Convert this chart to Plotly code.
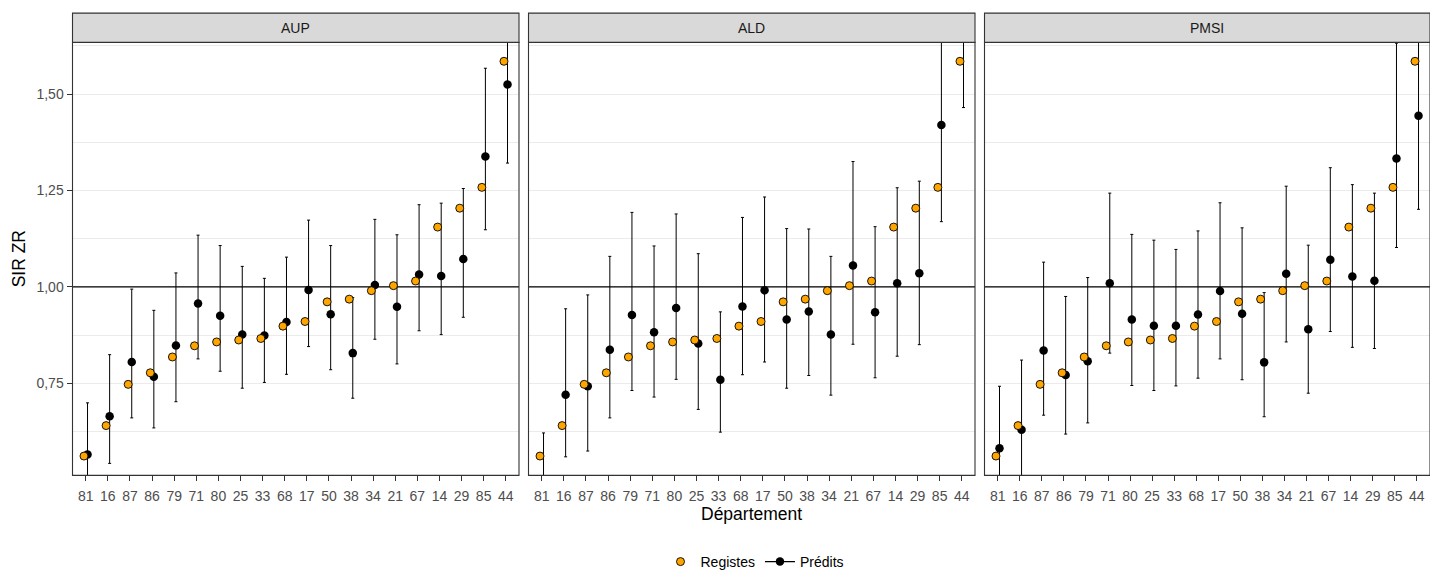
import plotly.graph_objects as go

# ---------------- data ----------------
categories = ["81", "16", "87", "86", "79", "71", "80", "25", "33", "68",
              "17", "50", "38", "34", "21", "67", "14", "29", "85", "44"]

registes = [0.561, 0.640, 0.747, 0.777, 0.818, 0.847, 0.857, 0.862, 0.866, 0.898,
            0.910, 0.961, 0.968, 0.990, 1.003, 1.015, 1.155, 1.204, 1.258, 1.585]

aup_pred = [0.565, 0.664, 0.805, 0.767, 0.848, 0.957, 0.925, 0.876, 0.874, 0.909,
            0.992, 0.929, 0.828, 1.005, 0.948, 1.032, 1.028, 1.072, 1.338, 1.525]
aup_low = [0.430, 0.542, 0.660, 0.634, 0.702, 0.813, 0.781, 0.737, 0.752, 0.773,
           0.845, 0.785, 0.711, 0.864, 0.800, 0.886, 0.876, 0.921, 1.148, 1.321]
aup_high = [0.699, 0.824, 0.994, 0.939, 1.036, 1.134, 1.107, 1.053, 1.022, 1.077,
            1.173, 1.107, 0.972, 1.175, 1.135, 1.213, 1.217, 1.255, 1.567, 1.730]

ald_pred = [0.480, 0.720, 0.742, 0.837, 0.927, 0.882, 0.945, 0.853, 0.759, 0.949,
            0.991, 0.915, 0.936, 0.876, 1.055, 0.934, 1.009, 1.035, 1.420, 1.780]
ald_low = [0.360, 0.559, 0.574, 0.660, 0.731, 0.714, 0.760, 0.682, 0.623, 0.772,
           0.805, 0.737, 0.770, 0.719, 0.851, 0.764, 0.820, 0.850, 1.169, 1.465]
ald_high = [0.621, 0.943, 0.979, 1.079, 1.193, 1.106, 1.189, 1.086, 0.935, 1.180,
            1.233, 1.151, 1.150, 1.079, 1.325, 1.156, 1.257, 1.274, 1.700, 2.120]

pmsi_pred = [0.581, 0.629, 0.835, 0.771, 0.807, 1.009, 0.915, 0.899, 0.899, 0.928,
             0.989, 0.930, 0.804, 1.034, 0.890, 1.070, 1.027, 1.016, 1.333, 1.444]
pmsi_low = [0.440, 0.470, 0.667, 0.618, 0.647, 0.828, 0.744, 0.731, 0.743, 0.763,
            0.813, 0.759, 0.663, 0.857, 0.724, 0.884, 0.843, 0.840, 1.102, 1.201]
pmsi_high = [0.742, 0.810, 1.064, 0.975, 1.024, 1.243, 1.136, 1.121, 1.097, 1.145,
             1.218, 1.153, 0.985, 1.261, 1.108, 1.309, 1.265, 1.243, 1.632, 1.700]

panels = ["AUP", "ALD", "PMSI"]
pred_series = [aup_pred, ald_pred, pmsi_pred]
low_series = [aup_low, ald_low, pmsi_low]
high_series = [aup_high, ald_high, pmsi_high]

ref_value = 1.0
y_ticks = [0.75, 1.00, 1.25, 1.50]
y_ticktext = ["0,75", "1,00", "1,25", "1,50"]
y_minor = [0.625, 0.875, 1.125, 1.375, 1.625]
y_range = [0.511, 1.634]

# ---------------- layout geometry ----------------
W, H = 1430, 578
FONT = "Liberation Sans, Arial, sans-serif"
panel_px = [(72.5, 519.0), (528.5, 975.0), (984.5, 1430.0)]
top_px, bottom_px = 43.0, 482.0
strip_top_px = 13.3
ydom = [1 - bottom_px / H, 1 - top_px / H]
strip_y = [1 - top_px / H, 1 - strip_top_px / H]
dodge = 0.08
n = len(categories)
idx = list(range(n))
x_range = [-0.6, n - 0.4]

fig = go.Figure()
shapes = []
annotations = []

for k, name in enumerate(panels):
    xa = "x" if k == 0 else f"x{k+1}"
    ya = "y" if k == 0 else f"y{k+1}"
    pred = pred_series[k]
    lo = low_series[k]
    hi = high_series[k]
    plus = [h - p for h, p in zip(hi, pred)]
    minus = [p - l for p, l in zip(pred, lo)]
    # reference line at 1 (drawn first, under the points)
    fig.add_trace(go.Scatter(
        x=x_range, y=[ref_value, ref_value], mode="lines",
        line=dict(color="black", width=1.2), hoverinfo="skip",
        xaxis=xa, yaxis=ya, showlegend=False,
    ))
    fig.add_trace(go.Scatter(
        x=[i + dodge for i in idx], y=pred, mode="markers",
        marker=dict(color="black", size=8.5, line=dict(width=0)),
        error_y=dict(type="data", symmetric=False, array=plus, arrayminus=minus,
                     color="black", thickness=1, width=1.5),
        xaxis=xa, yaxis=ya, showlegend=False, name="Prédits",
    ))
    fig.add_trace(go.Scatter(
        x=[i - dodge for i in idx], y=registes, mode="markers",
        marker=dict(color="#FFA500", size=8, line=dict(color="black", width=0.9)),
        xaxis=xa, yaxis=ya, showlegend=False, name="Registes",
    ))

    x0, x1 = panel_px[k]
    dom = [x0 / W, min(x1 / W, 1.0)]
    xkey = "xaxis" if k == 0 else f"xaxis{k+1}"
    ykey = "yaxis" if k == 0 else f"yaxis{k+1}"
    fig.layout[xkey] = dict(
        domain=dom, anchor=ya, range=x_range,
        tickmode="array", tickvals=idx, ticktext=categories,
        showgrid=False, zeroline=False, showline=False,
        ticks="outside", ticklen=5, tickwidth=1.1, tickcolor="#333333",
        ticklabelstandoff=3,
        tickfont=dict(family=FONT, size=14, color="#4D4D4D"),
    )
    ydict = dict(
        domain=ydom, anchor=xa, range=y_range,
        tickmode="array", tickvals=y_ticks, ticktext=y_ticktext,
        showgrid=True, gridcolor="#EBEBEB", gridwidth=1.1,
        zeroline=False, showline=False,
        minor=dict(tickmode="array", tickvals=y_minor, showgrid=True,
                   gridcolor="#EBEBEB", gridwidth=0.55, ticks=""),
        tickfont=dict(family=FONT, size=14, color="#4D4D4D"),
    )
    if k == 0:
        ydict.update(ticks="outside", ticklen=5, tickwidth=1.1, tickcolor="#333333",
                     showticklabels=True)
    else:
        ydict.update(ticks="", showticklabels=False, matches="y")
    fig.layout[ykey] = ydict

    # panel border
    shapes.append(dict(type="rect", xref="paper", yref="paper",
                       x0=dom[0], x1=dom[1], y0=ydom[0], y1=ydom[1],
                       line=dict(color="#333333", width=1.1),
                       fillcolor="rgba(0,0,0,0)", layer="above"))
    # strip
    shapes.append(dict(type="rect", xref="paper", yref="paper",
                       x0=dom[0], x1=dom[1], y0=strip_y[0], y1=strip_y[1],
                       line=dict(color="#333333", width=1.1), fillcolor="#D9D9D9",
                       layer="above"))
    annotations.append(dict(text=name, xref="paper", yref="paper",
                            x=(dom[0] + dom[1]) / 2, y=(strip_y[0] + strip_y[1]) / 2,
                            xanchor="center", yanchor="middle", showarrow=False,
                            font=dict(family=FONT, size=14, color="#1A1A1A")))

# legend-only traces
fig.add_trace(go.Scatter(x=[None], y=[None], mode="markers", name="Registes",
                         marker=dict(color="#FFA500", size=8, line=dict(color="black", width=0.9)),
                         showlegend=True))
fig.add_trace(go.Scatter(x=[None], y=[None], mode="lines+markers", name="Prédits",
                         marker=dict(color="black", size=8.5),
                         line=dict(color="black", width=1.2), showlegend=True))

# axis titles
annotations.append(dict(text="Département", xref="paper", yref="paper",
                        x=751.5 / W, y=1 - 521 / H, xanchor="center", yanchor="middle",
                        showarrow=False, font=dict(family=FONT, size=17.5, color="black")))
annotations.append(dict(text="SIR ZR", xref="paper", yref="paper",
                        x=19 / W, y=1 - 263 / H, xanchor="center", yanchor="middle",
                        textangle=-90, showarrow=False,
                        font=dict(family=FONT, size=17.5, color="black")))

fig.update_layout(
    width=W, height=H,
    margin=dict(l=0, r=0, t=0, b=0),
    paper_bgcolor="white", plot_bgcolor="white",
    font=dict(family=FONT, size=14, color="black"),
    shapes=shapes, annotations=annotations,
    legend=dict(orientation="h", x=755 / W, y=1 - 570 / H,
                xanchor="center", yanchor="middle",
                font=dict(family=FONT, size=14, color="black"),
                bgcolor="rgba(0,0,0,0)", itemwidth=30, tracegroupgap=0),
)

fig.write_html("out.html")
